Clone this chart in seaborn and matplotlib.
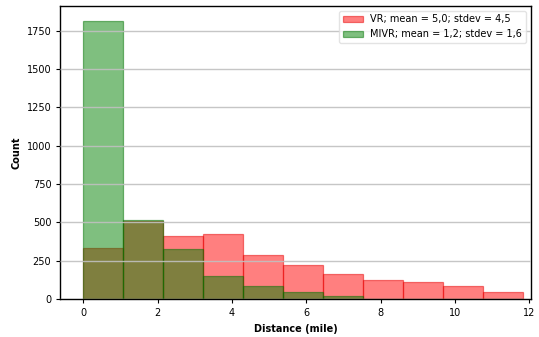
import numpy as np
import pandas as pd
import matplotlib
matplotlib.use("Agg")
import matplotlib.pyplot as plt
import seaborn as sns

# Shared bins (miles) and per-bin counts for the two groups
bin_max = 11.85
n_bins = 11
vr_counts = [335, 505, 413, 424, 287, 224, 161, 124, 113, 87, 48]
mivr_counts = [1815, 515, 325, 150, 87, 48, 22, 0, 0, 0, 0]
vr_label = "VR; mean = 5,0; stdev = 4,5"
mivr_label = "MIVR; mean = 1,2; stdev = 1,6"

bin_edges = np.linspace(0, bin_max, n_bins + 1)
centers = (bin_edges[:-1] + bin_edges[1:]) / 2
vr_df = pd.DataFrame({"distance": centers, "count": vr_counts})
mivr_df = pd.DataFrame({"distance": centers, "count": mivr_counts})

sns.set_style("white")
plt.rcParams.update({"text.color": "black", "axes.labelcolor": "black",
                     "xtick.color": "black", "ytick.color": "black"})
fig, ax = plt.subplots(figsize=(5.39, 3.37), dpi=100)
fig.subplots_adjust(left=0.112, right=0.985, top=0.983, bottom=0.113)

common = dict(x="distance", weights="count", bins=n_bins,
              binrange=(0, bin_max), alpha=0.5, linewidth=0.9, ax=ax)
sns.histplot(data=vr_df, color="red", edgecolor=(0.9, 0, 0, 0.5),
             label=vr_label, **common)
sns.histplot(data=mivr_df, color="green", edgecolor=(0, 0.45, 0, 0.5),
             label=mivr_label, **common)

# grid lines sit on top of the bars
ax.set_axisbelow(False)
ax.yaxis.grid(True, color="#c0c0c0", linewidth=1.0, alpha=0.9)
ax.xaxis.grid(False)
ax.set_xlim(-0.62, 12.05)
ax.set_ylim(0, 1912)
ax.set_yticks(np.arange(0, 1751, 250))
ax.set_xticks(np.arange(0, 13, 2))
ax.tick_params(axis="both", labelsize=7, length=3, width=0.8, direction="out",
               bottom=True, left=True)
for s in ax.spines.values():
    s.set_color("black")
    s.set_linewidth(1.0)
ax.set_xlabel("Distance (mile)", fontsize=7, fontweight="bold")
ax.set_ylabel("Count", fontsize=7, fontweight="bold")
ax.legend(loc="upper right", fontsize=7, frameon=True, framealpha=0.8,
          edgecolor="#dddddd", fancybox=True)

fig.savefig("out.png", dpi=100)
